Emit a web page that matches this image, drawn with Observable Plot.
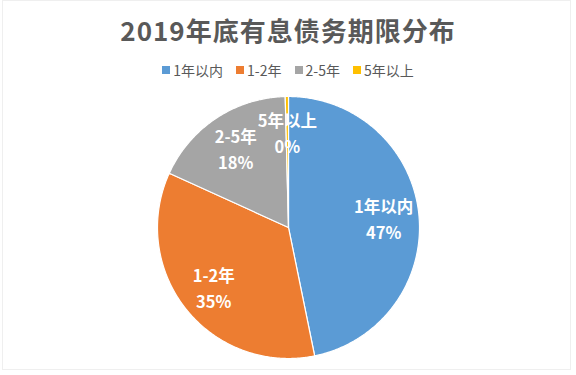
<!DOCTYPE html>
<html>
<head>
<meta charset="utf-8">
<script src="https://cdn.jsdelivr.net/npm/d3@7"></script>
<script src="https://cdn.jsdelivr.net/npm/@observablehq/plot@0.6"></script>
<style>
  html, body { margin: 0; padding: 0; background: #fff; }
  #wrap { position: relative; width: 576px; height: 375px; overflow: hidden; background: #fff;
    font-family: "Noto Sans CJK SC", "Noto Sans", sans-serif; }
  #frame { position: absolute; left: 2px; top: 0px; width: 569px; height: 370px; border: 1px solid #efefef; box-sizing: border-box; pointer-events: none; }
  #title { position: absolute; left: 0; top: 10px; width: 576px; text-align: center; font-size: 26px; font-weight: bold;
    color: #595959; letter-spacing: 1px; line-height: 40px; }
  #legend { position: absolute; left: 0; top: 60px; width: 576px; display: flex; justify-content: center; gap: 13px;
    font-size: 14px; color: #595959; line-height: 20px; }
  #legend .item { display: flex; align-items: center; }
  #legend .sw { width: 8px; height: 8px; margin-right: 3px; }
  #chart { position: absolute; left: 0; top: 86px; }
</style>
</head>
<body>
<div id="wrap">
  <div id="title"></div>
  <div id="legend"></div>
  <div id="chart"></div>
  <div id="frame"></div>
</div>
<script>
const titleText = "2019年底有息债务期限分布";
const categories = ["1年以内", "1-2年", "2-5年", "5年以上"];
const values = [46.8, 35.0, 17.8, 0.4];
const percentLabels = ["47%", "35%", "18%", "0%"];
const colors = ["#5B9BD5", "#ED7D31", "#A5A5A5", "#FFC000"];

document.getElementById("title").textContent = titleText;
const legend = document.getElementById("legend");
categories.forEach((c, i) => {
  const it = document.createElement("div");
  it.className = "item";
  const sw = document.createElement("span");
  sw.className = "sw";
  sw.style.background = colors[i];
  it.appendChild(sw);
  const t = document.createElement("span");
  t.textContent = c;
  it.appendChild(t);
  legend.appendChild(it);
});

const R = 131;
const W = 576, H = 289;
const pie = d3.pie().sort(null).value(d => d)(values);

// slice polygons in data space (x right, y up), angle clockwise from top
const polys = [];
pie.forEach((a, i) => {
  const pts = [{cat: categories[i], x: 0, y: 0}];
  const n = Math.max(2, Math.ceil((a.endAngle - a.startAngle) / (Math.PI / 360)));
  for (let k = 0; k <= n; k++) {
    const t = a.startAngle + (a.endAngle - a.startAngle) * k / n;
    pts.push({cat: categories[i], x: R * Math.sin(t), y: R * Math.cos(t)});
  }
  polys.push(...pts);
});

const labelR = 0.73 * R;
const labels = pie.map((a, i) => {
  const m = (a.startAngle + a.endAngle) / 2;
  return {cat: categories[i], text: categories[i] + "\n" + percentLabels[i], x: labelR * Math.sin(m), y: labelR * Math.cos(m)};
});

const plot = Plot.plot({
  width: W,
  height: H,
  margin: 0,
  x: {domain: [-288, 288], axis: null},
  y: {domain: [-148, 141], axis: null},
  color: {domain: categories, range: colors},
  style: {background: "transparent"},
  marks: [
    Plot.line(polys, {x: "x", y: "y", z: "cat", fill: "cat", stroke: "#ffffff", strokeWidth: 1.2, curve: "linear-closed", strokeLinejoin: "round"}),
    Plot.text(labels, {x: "x", y: "y", text: "text", fill: "#ffffff", fontSize: 16.5, fontWeight: "bold", lineHeight: 1.58,
      fontFamily: "'Noto Sans CJK SC', 'Noto Sans', sans-serif"})
  ]
});
document.getElementById("chart").appendChild(plot);
</script>
</body>
</html>
